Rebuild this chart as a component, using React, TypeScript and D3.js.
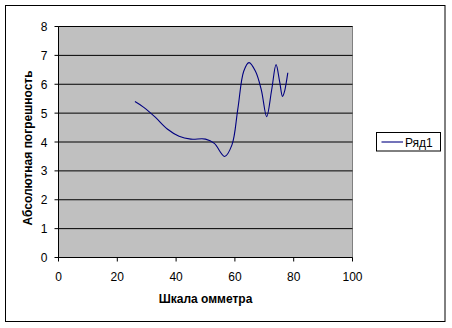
import React from "react";
import * as d3 from "d3";

const xValues = [26, 29, 33, 37, 41, 45, 50, 53, 56.5, 59, 61, 63, 64.8, 67, 69, 70.8, 72.5, 74, 75.2, 76.2, 77, 78];
const yValues = [5.4, 5.2, 4.85, 4.45, 4.2, 4.1, 4.1, 3.95, 3.5, 3.9, 5.15, 6.45, 6.75, 6.45, 5.8, 4.88, 5.8, 6.68, 6.1, 5.58, 5.8, 6.4];
const xTicks = [0, 20, 40, 60, 80, 100];
const yTicks = [0, 1, 2, 3, 4, 5, 6, 7, 8];
const seriesName = "Ряд1";
const xTitle = "Шкала омметра";
const yTitle = "Абсолютная погрешность";

export default function App() {
  const W = 452, H = 328;
  const x = d3.scaleLinear().domain([0, 100]).range([58.5, 352.5]);
  const y = d3.scaleLinear().domain([0, 8]).range([257.5, 26.5]);
  const pts: [number, number][] = xValues.map((v, i) => [v, yValues[i]]);
  const line = d3
    .line<[number, number]>()
    .x((d) => x(d[0]))
    .y((d) => y(d[1]))
    .curve(d3.curveCatmullRom.alpha(0.5));
  const font = "Arial, 'Liberation Sans', sans-serif";
  return (
    <svg
      width={W}
      height={H}
      style={{ position: "fixed", left: 0, top: 0, background: "#fff" }}
      fontFamily={font}
    >
      <rect x={5.5} y={5.5} width={439.5} height={316} fill="#fff" stroke="#000" strokeWidth={1} />
      <rect x={x(0)} y={y(8)} width={x(100) - x(0)} height={y(0) - y(8)} fill="#C0C0C0" stroke="#808080" strokeWidth={1} />
      {yTicks.map((t) => (
        <g key={"y" + t}>
          {t > 0 && <line x1={x(0)} x2={x(100)} y1={y(t)} y2={y(t)} stroke="#000" strokeWidth={1} />}
          <line x1={x(0) - 4} x2={x(0)} y1={y(t)} y2={y(t)} stroke="#000" />
          <text x={x(0) - 11} y={y(t) + 4.5} fontSize={12} textAnchor="end" fill="#000">
            {t}
          </text>
        </g>
      ))}
      {xTicks.map((t) => (
        <g key={"x" + t}>
          <line x1={x(t)} x2={x(t)} y1={y(0)} y2={y(0) + 4} stroke="#000" />
          <text x={x(t)} y={y(0) + 23} fontSize={12} textAnchor="middle" fill="#000">
            {t}
          </text>
        </g>
      ))}
      <line x1={x(0)} x2={x(0)} y1={y(8)} y2={y(0)} stroke="#000" />
      <line x1={x(0)} x2={x(100)} y1={y(0)} y2={y(0)} stroke="#000" />
      <path d={line(pts) || ""} fill="none" stroke="#000080" strokeWidth={1.1} />
      <text x={(x(0) + x(100)) / 2} y={303} fontSize={12} fontWeight="bold" textAnchor="middle" fill="#000">
        {xTitle}
      </text>
      <text
        transform={`translate(32,${(y(0) + y(8)) / 2 + 6}) rotate(-90)`}
        fontSize={12}
        fontWeight="bold"
        textAnchor="middle"
        fill="#000"
      >
        {yTitle}
      </text>
      <rect x={376.5} y={132.5} width={64} height={18.5} fill="#fff" stroke="#000" />
      <line x1={381.5} x2={403} y1={142} y2={142} stroke="#000080" strokeWidth={1.1} />
      <text x={405} y={146.5} fontSize={12} fill="#000">
        {seriesName}
      </text>
    </svg>
  );
}
